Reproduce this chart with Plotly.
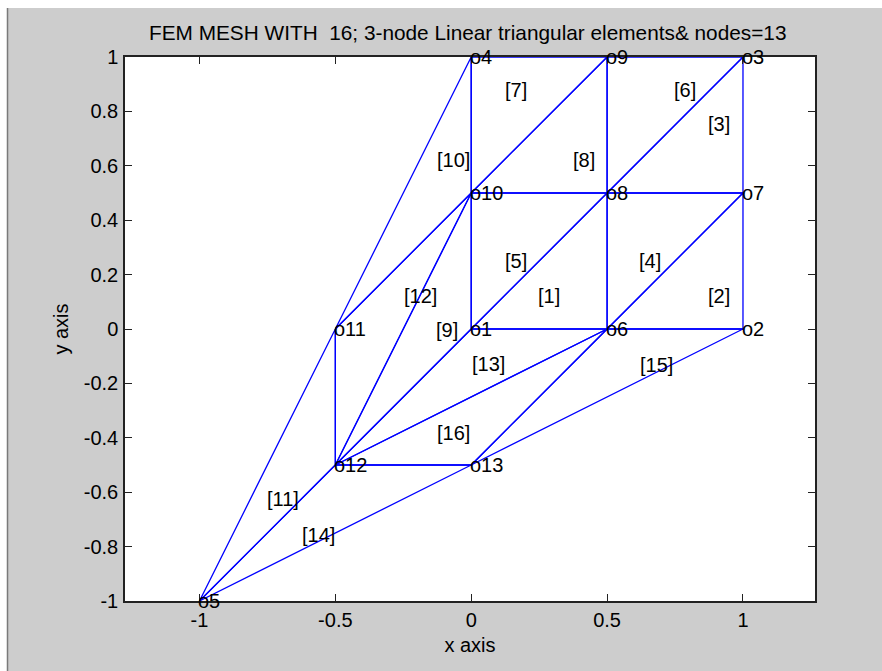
import plotly.graph_objects as go

# Node coordinates (node numbers 1..13)
node_x = [0, 1, 1, 0, -1, 0.5, 1, 0.5, 0.5, 0, -0.5, -0.5, 0]
node_y = [0, 0, 1, 1, -1, 0, 0.5, 0.5, 1, 0.5, 0, -0.5, -0.5]
node_labels = ["o%d" % (i + 1) for i in range(13)]

# Element connectivity (1-based node numbers), elements 1..16
elements = [
    (1, 6, 8), (6, 2, 7), (8, 7, 3), (6, 7, 8),
    (1, 8, 10), (8, 3, 9), (10, 9, 4), (10, 8, 9),
    (1, 10, 12), (11, 10, 4), (5, 12, 11), (11, 12, 10),
    (12, 6, 1), (5, 13, 12), (13, 2, 6), (12, 13, 6),
]
elem_labels = ["[%d]" % (i + 1) for i in range(16)]
# element label positions
elem_label_x = [0.287, 0.912, 0.912, 0.658, 0.165, 0.787, 0.165, 0.415,
                -0.088, -0.066, -0.691, -0.188, 0.063, -0.563, 0.680, -0.066]
elem_label_y = [0.121, 0.121, 0.754, 0.250, 0.250, 0.879, 0.879, 0.621,
                -0.004, 0.621, -0.625, 0.121, -0.129, -0.757, -0.132, -0.383]

title_text = "FEM MESH WITH  16; 3-node Linear triangular elements& nodes=13"
x_ticks = [-1, -0.5, 0, 0.5, 1]
y_ticks = [-1, -0.8, -0.6, -0.4, -0.2, 0, 0.2, 0.4, 0.6, 0.8, 1]

FONT = "Liberation Sans, Arial, sans-serif"
FS = 20

lx, ly = [], []
for tri in elements:
    for n in list(tri) + [tri[0]]:
        lx.append(node_x[n - 1])
        ly.append(node_y[n - 1])
    lx.append(None)
    ly.append(None)

fig = go.Figure()
fig.add_trace(go.Scatter(x=lx, y=ly, mode="lines",
                         line=dict(color="#0000ff", width=1.3),
                         hoverinfo="skip", showlegend=False, cliponaxis=False))

W, H = 882, 671
ml, mr, mt, mb = 125, 67, 57, 70
pw, ph = W - ml - mr, H - mt - mb

def px_to_paper_x(px):
    return (px - ml) / pw

def px_to_paper_y(py):
    return (H - mb - py) / ph

annotations = []
for x, y, t in zip(node_x, node_y, node_labels):
    annotations.append(dict(x=x, y=y, xref="x", yref="y", text=t, showarrow=False,
                            xanchor="left", yanchor="middle", xshift=-3,
                            font=dict(family=FONT, size=FS, color="#000")))
for x, y, t in zip(elem_label_x, elem_label_y, elem_labels):
    annotations.append(dict(x=x, y=y, xref="x", yref="y", text=t, showarrow=False,
                            xanchor="center", yanchor="middle",
                            font=dict(family=FONT, size=FS, color="#000")))
# title
annotations.append(dict(x=px_to_paper_x(468), y=px_to_paper_y(32), xref="paper", yref="paper",
                        text=title_text, showarrow=False, xanchor="center", yanchor="middle",
                        font=dict(family=FONT, size=20.8, color="#000")))

shapes = [
    dict(type="rect", xref="paper", yref="paper", layer="below",
         x0=px_to_paper_x(-5), x1=px_to_paper_x(7), y0=px_to_paper_y(H + 5), y1=px_to_paper_y(-5),
         fillcolor="white", line=dict(width=0)),
    dict(type="rect", xref="paper", yref="paper", layer="below",
         x0=px_to_paper_x(-5), x1=px_to_paper_x(W + 5), y0=px_to_paper_y(8), y1=px_to_paper_y(-5),
         fillcolor="white", line=dict(width=0)),
    dict(type="line", xref="paper", yref="paper", layer="below",
         x0=px_to_paper_x(7.5), x1=px_to_paper_x(7.5), y0=px_to_paper_y(H + 5), y1=px_to_paper_y(8),
         line=dict(color="#7a7a7a", width=1.5)),
]

axis_common = dict(showgrid=False, zeroline=False, showline=True, linecolor="#222",
                   linewidth=1.5, mirror="ticks", ticks="inside", ticklen=7,
                   tickcolor="#222", tickwidth=1,
                   tickfont=dict(family=FONT, size=FS, color="#000"))

fig.update_layout(
    width=W, height=H,
    margin=dict(l=ml, r=mr, t=mt, b=mb, pad=0),
    paper_bgcolor="#cdcdcd", plot_bgcolor="white",
    xaxis=dict(range=[-1.274, 1.265], tickvals=x_ticks,
               ticktext=[("%g" % v) for v in x_ticks],
               title=dict(text="x axis", font=dict(family=FONT, size=FS, color="#000"), standoff=8),
               ticklabelstandoff=0, **axis_common),
    yaxis=dict(range=[-1, 1], tickvals=y_ticks,
               ticktext=[("%g" % v) for v in y_ticks],
               title=dict(text="y axis", font=dict(family=FONT, size=FS, color="#000"), standoff=10),
               ticklabelstandoff=1, **axis_common),
    annotations=annotations, shapes=shapes,
    showlegend=False,
)

fig.write_html("out.html")
